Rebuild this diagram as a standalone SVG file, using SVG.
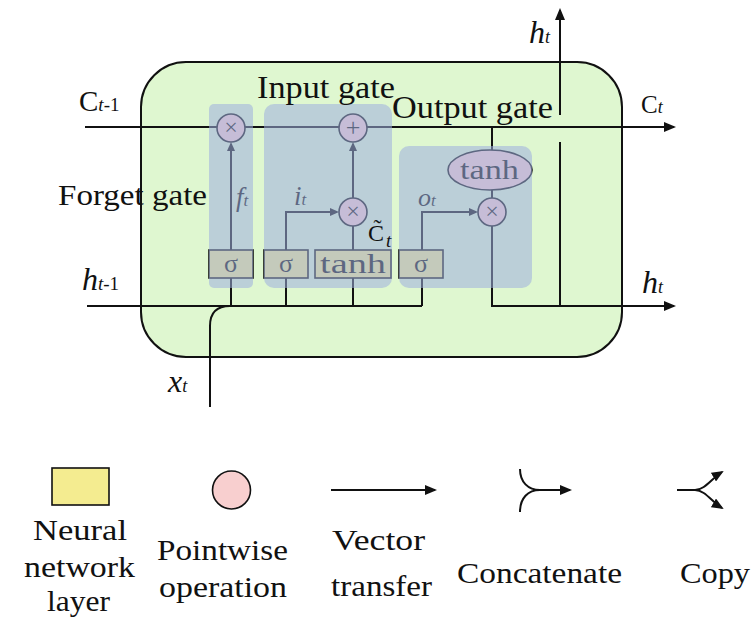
<svg xmlns="http://www.w3.org/2000/svg" width="754" height="621" viewBox="0 0 754 621">
<defs>
<style>
.ln{fill:none;stroke:#111;stroke-width:2}
.op{fill:#f8cfcf;stroke:#111;stroke-width:1.6}
.nn{fill:#f4ec90;stroke:#111;stroke-width:1.6}
.panel{fill:rgb(156,175,222);fill-opacity:0.55}
.t{font-family:"Liberation Serif","Times New Roman",serif;fill:#111}
.it{font-style:italic}
.c{text-anchor:middle}
</style>
<marker id="ah" markerUnits="userSpaceOnUse" markerWidth="12" markerHeight="10" refX="10" refY="5" orient="auto"><path d="M0,0 L12,5 L0,10 z" fill="#111"/></marker>
<marker id="as" markerUnits="userSpaceOnUse" markerWidth="9" markerHeight="8" refX="7" refY="4" orient="auto"><path d="M0,0 L9,4 L0,8 z" fill="#111"/></marker>
</defs>
<rect width="754" height="621" fill="#fff"/>
<g id="cell"><rect x="141" y="62" width="481" height="295" rx="45" fill="#dff7d0" stroke="#111" stroke-width="2"/></g>
<g id="connectors">
<path class="ln" d="M85,127 H674" marker-end="url(#ah)"/>
<path class="ln" d="M87,306 H422"/>
<path class="ln" d="M210,407 V326 Q210,306 230,306"/>
<path class="ln" d="M492,226 V306 H674" marker-end="url(#ah)"/>
<path class="ln" d="M560,306 V142"/>
<path class="ln" d="M560,115 V10" marker-end="url(#ah)"/>
<path class="ln" d="M492,127 V150"/>
<path class="ln" d="M231,306 V278 M286,306 V278 M353,306 V278 M422,306 V278"/>
<path class="ln" d="M231,250 V144" marker-end="url(#as)"/>
<path class="ln" d="M353,198 V144" marker-end="url(#as)"/>
<path class="ln" d="M286,250 V212 H337" marker-end="url(#as)"/>
<path class="ln" d="M422,250 V212 H476" marker-end="url(#as)"/>
<path class="ln" d="M353,250 V226 M492,190 V198"/>
</g>
<g id="forget-mult"><circle class="op" cx="231" cy="128" r="14"/><text class="t c" x="231" y="135" font-size="24">×</text></g>
<g id="input-add"><circle class="op" cx="353" cy="128" r="14"/><text class="t c" x="353" y="136" font-size="26">+</text></g>
<g id="input-mult"><circle class="op" cx="353" cy="212" r="14"/><text class="t c" x="353" y="219" font-size="24">×</text></g>
<g id="output-mult"><circle class="op" cx="492" cy="212" r="14"/><text class="t c" x="492" y="219" font-size="24">×</text></g>
<g id="output-tanh"><ellipse class="op" cx="490" cy="170" rx="42" ry="20"/><text class="t" x="460" y="179" font-size="28" textLength="59" lengthAdjust="spacingAndGlyphs">tanh</text></g>
<g id="forget-sigma"><rect class="nn" x="209" y="250" width="44" height="28"/><text class="t c" x="231" y="272" font-size="26">σ</text></g>
<g id="input-sigma"><rect class="nn" x="264" y="250" width="44" height="28"/><text class="t c" x="286" y="272" font-size="26">σ</text></g>
<g id="input-tanh"><rect class="nn" x="315" y="250" width="76" height="28"/><text class="t" x="320" y="273" font-size="28" textLength="66" lengthAdjust="spacingAndGlyphs">tanh</text></g>
<g id="output-sigma"><rect class="nn" x="399" y="250" width="44" height="28"/><text class="t c" x="421" y="272" font-size="26">σ</text></g>
<g id="gate-labels-inner">
<text class="t it" x="236" y="206" font-size="27">f<tspan font-size="17">t</tspan></text>
<text class="t it" x="294" y="205" font-size="27">i<tspan font-size="17">t</tspan></text>
<text class="t it" x="418" y="206" font-size="26">o<tspan font-size="17">t</tspan></text>
</g>
<g id="forget-gate"><rect class="panel" x="209" y="104" width="44" height="184" rx="5"/></g>
<g id="input-gate"><rect class="panel" x="264" y="104" width="128" height="184" rx="10"/></g>
<g id="output-gate"><rect class="panel" x="399" y="146" width="133" height="142" rx="10"/></g>
<g id="labels">
<text class="t" x="257" y="98" font-size="31" textLength="138" lengthAdjust="spacingAndGlyphs">Input gate</text>
<text class="t" x="392" y="118" font-size="31" textLength="161" lengthAdjust="spacingAndGlyphs">Output gate</text>
<text class="t" x="58" y="205" font-size="30" textLength="149" lengthAdjust="spacingAndGlyphs">Forget gate</text>
<text class="t" x="79" y="111" font-size="29">C<tspan font-size="19" class="it">t</tspan><tspan font-size="19">-1</tspan></text>
<text class="t" x="641" y="113" font-size="25">C<tspan font-size="18" class="it">t</tspan></text>
<text class="t it" x="529" y="43" font-size="32">h<tspan font-size="18">t</tspan></text>
<text class="t it" x="82" y="290" font-size="32">h<tspan font-size="19">t</tspan><tspan font-size="19" font-style="normal">-1</tspan></text>
<text class="t it" x="642" y="293" font-size="32">h<tspan font-size="18">t</tspan></text>
<text class="t it" x="168" y="392" font-size="32">x<tspan font-size="18">t</tspan></text>
<text class="t" x="368" y="241" font-size="24">C&#x303;</text>
<text class="t it" x="386" y="247" font-size="19">t</text>
</g>
<g id="legend">
<rect class="nn" x="52" y="468" width="57" height="37" stroke-width="2"/>
<circle class="op" cx="231.5" cy="490" r="19" stroke-width="1.8"/>
<path class="ln" d="M331,490 H435" marker-end="url(#ah)"/>
<path class="ln" d="M520,469 C520,482 528,490 540,490 M520,512 C520,498 528,490 540,490 H570" marker-end="url(#ah)"/>
<path class="ln" d="M677,490 H695"/>
<path class="ln" d="M695,490 C705,490 712,478 722,472" marker-end="url(#ah)"/>
<path class="ln" d="M695,490 C705,490 712,502 722,508" marker-end="url(#ah)"/>
<text class="t" x="33" y="540" font-size="30" textLength="94" lengthAdjust="spacingAndGlyphs">Neural</text>
<text class="t" x="24" y="577" font-size="30" textLength="111" lengthAdjust="spacingAndGlyphs">network</text>
<text class="t" x="47" y="611" font-size="30" textLength="63" lengthAdjust="spacingAndGlyphs">layer</text>
<text class="t" x="157" y="560" font-size="30" textLength="131" lengthAdjust="spacingAndGlyphs">Pointwise</text>
<text class="t" x="159" y="597" font-size="30" textLength="128" lengthAdjust="spacingAndGlyphs">operation</text>
<text class="t" x="332" y="550" font-size="30" textLength="93" lengthAdjust="spacingAndGlyphs">Vector</text>
<text class="t" x="331" y="596" font-size="30" textLength="101" lengthAdjust="spacingAndGlyphs">transfer</text>
<text class="t" x="457" y="583" font-size="30" textLength="165" lengthAdjust="spacingAndGlyphs">Concatenate</text>
<text class="t" x="680" y="583" font-size="30" textLength="70" lengthAdjust="spacingAndGlyphs">Copy</text>
</g>
</svg>
